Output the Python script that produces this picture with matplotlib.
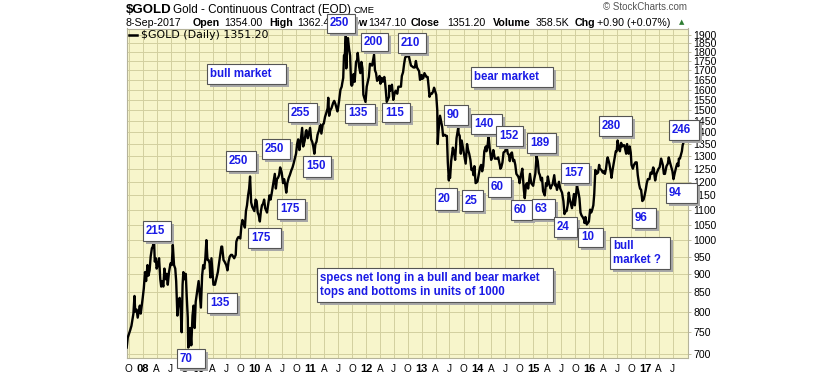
import matplotlib
matplotlib.use('Agg')
import matplotlib.pyplot as plt
import pandas as pd
from matplotlib.patches import Rectangle
from matplotlib.lines import Line2D
from matplotlib.ticker import FixedLocator, NullLocator

plt.rcParams['font.family'] = ['Liberation Sans', 'DejaVu Sans']

# ---- data: $GOLD daily closes (date, close) ----
days_2007 = ['09-17', '09-24', '10-01', '10-10', '10-18', '10-31', '11-07', '11-12', '11-21', '11-28',
             '12-05', '12-12', '12-18', '12-31']
close_2007 = [715, 738, 745, 755, 765, 795, 840, 800, 805, 785,
              800, 815, 795, 835]

days_2008 = ['01-07', '01-15', '01-22', '01-31', '02-06', '02-14', '02-21', '02-29',
             '03-06', '03-14', '03-19', '03-26', '03-31', '04-08', '04-16', '04-24', '04-30',
             '05-05', '05-14', '05-21', '05-30', '06-06', '06-12', '06-20', '06-30',
             '07-08', '07-15', '07-23', '07-31', '08-06', '08-14', '08-21', '08-29',
             '09-05', '09-11', '09-17', '09-22', '09-30', '10-08', '10-14', '10-21', '10-24', '10-31',
             '11-05', '11-13', '11-21', '11-28', '12-05', '12-12', '12-19', '12-31']
close_2008 = [860, 905, 880, 925, 895, 910, 950, 975,
              980, 1000, 935, 945, 915, 925, 945, 885, 865,
              880, 865, 915, 885, 900, 870, 905, 930,
              925, 985, 925, 915, 880, 790, 830, 835,
              800, 750, 870, 905, 885, 900, 840, 785, 715, 720,
              760, 720, 790, 815, 760, 825, 845, 880]

days_2009 = ['01-07', '01-15', '01-23', '01-30', '02-06', '02-13', '02-20', '02-27',
             '03-06', '03-13', '03-18', '03-25', '04-02', '04-07', '04-17', '04-28',
             '05-06', '05-14', '05-22', '05-29', '06-03', '06-12', '06-19', '06-30',
             '07-08', '07-15', '07-23', '07-31', '08-07', '08-14', '08-21', '08-31',
             '09-04', '09-11', '09-18', '09-30', '10-07', '10-14', '10-22', '10-30',
             '11-06', '11-13', '11-20', '11-27', '12-03', '12-10', '12-17', '12-31']
close_2009 = [845, 810, 895, 925, 915, 945, 1000, 940,
              940, 930, 890, 945, 900, 870, 870, 890,
              905, 930, 955, 980, 980, 940, 935, 925,
              910, 935, 950, 955, 955, 950, 945, 955,
              995, 1005, 1010, 1005, 1045, 1065, 1055, 1040,
              1095, 1115, 1150, 1175, 1220, 1125, 1110, 1095]

days_2010 = ['01-08', '01-15', '01-22', '01-29', '02-05', '02-12', '02-19', '02-26',
             '03-05', '03-12', '03-24', '03-31', '04-09', '04-16', '04-23', '04-30',
             '05-07', '05-14', '05-21', '05-28', '06-04', '06-11', '06-18', '06-28',
             '07-07', '07-14', '07-21', '07-28', '08-04', '08-13', '08-20', '08-31',
             '09-07', '09-14', '09-24', '09-30', '10-07', '10-14', '10-22', '10-29',
             '11-05', '11-09', '11-16', '11-26', '12-03', '12-07', '12-16', '12-31']
close_2010 = [1135, 1130, 1090, 1080, 1060, 1095, 1115, 1120,
              1135, 1105, 1090, 1115, 1150, 1135, 1155, 1180,
              1205, 1230, 1175, 1210, 1215, 1225, 1255, 1235,
              1195, 1210, 1190, 1160, 1195, 1215, 1225, 1245,
              1255, 1270, 1295, 1310, 1350, 1370, 1325, 1355,
              1395, 1420, 1340, 1365, 1405, 1410, 1375, 1420]

days_2011 = ['01-07', '01-14', '01-21', '01-28', '02-04', '02-11', '02-18', '02-28',
             '03-07', '03-15', '03-24', '03-31', '04-08', '04-15', '04-25', '04-29',
             '05-05', '05-12', '05-20', '05-31', '06-07', '06-15', '06-28', '06-30',
             '07-08', '07-18', '07-26', '07-29', '08-05', '08-10', '08-16', '08-22', '08-25', '08-31',
             '09-05', '09-12', '09-19', '09-26', '09-30', '10-04', '10-12', '10-19', '10-28',
             '11-04', '11-08', '11-17', '11-25', '12-02', '12-09', '12-15', '12-29']
close_2011 = [1370, 1360, 1340, 1310, 1350, 1360, 1390, 1410,
              1435, 1395, 1435, 1440, 1470, 1485, 1510, 1560,
              1475, 1500, 1510, 1535, 1545, 1530, 1495, 1500,
              1540, 1600, 1615, 1630, 1660, 1780, 1790, 1895, 1710, 1825,
              1880, 1820, 1780, 1625, 1620, 1625, 1680, 1640, 1745,
              1755, 1795, 1720, 1685, 1745, 1710, 1575, 1540]

days_2012 = ['01-06', '01-13', '01-20', '01-27', '02-03', '02-10', '02-23', '02-29',
             '03-07', '03-14', '03-21', '03-30', '04-05', '04-13', '04-20', '04-30',
             '05-04', '05-10', '05-16', '05-31', '06-01', '06-08', '06-19', '06-28',
             '07-06', '07-13', '07-24', '07-31', '08-08', '08-17', '08-23', '08-31',
             '09-07', '09-14', '09-21', '09-28', '10-04', '10-12', '10-22', '10-31',
             '11-07', '11-16', '11-23', '11-30', '12-07', '12-14', '12-20', '12-31']
close_2012 = [1615, 1640, 1665, 1735, 1730, 1725, 1785, 1700,
              1685, 1645, 1650, 1670, 1630, 1660, 1640, 1665,
              1645, 1595, 1540, 1565, 1620, 1595, 1625, 1550,
              1580, 1595, 1580, 1615, 1615, 1615, 1670, 1690,
              1735, 1770, 1775, 1775, 1795, 1760, 1725, 1720,
              1715, 1715, 1750, 1715, 1705, 1695, 1650, 1675]

days_2013 = ['01-04', '01-11', '01-18', '01-31', '02-08', '02-15', '02-20', '02-28',
             '03-08', '03-15', '03-22', '03-28', '04-05', '04-12', '04-15', '04-19', '04-30',
             '05-07', '05-14', '05-20', '05-31', '06-07', '06-14', '06-20', '06-27', '06-28',
             '07-05', '07-12', '07-23', '07-31', '08-07', '08-16', '08-27', '08-30',
             '09-06', '09-13', '09-19', '09-30', '10-04', '10-15', '10-24', '10-31',
             '11-07', '11-15', '11-22', '11-29', '12-05', '12-11', '12-19', '12-31']
close_2013 = [1655, 1660, 1685, 1665, 1665, 1610, 1565, 1580,
              1580, 1590, 1610, 1595, 1575, 1500, 1350, 1400, 1475,
              1450, 1425, 1385, 1390, 1385, 1385, 1275, 1205, 1225,
              1215, 1280, 1335, 1315, 1285, 1375, 1420, 1395,
              1385, 1310, 1365, 1325, 1310, 1270, 1350, 1325,
              1310, 1285, 1245, 1250, 1225, 1260, 1195, 1200]

days_2014 = ['01-08', '01-17', '01-24', '01-31', '02-07', '02-14', '02-24', '02-28',
             '03-07', '03-14', '03-21', '03-31', '04-07', '04-14', '04-24', '04-30',
             '05-08', '05-16', '05-28', '05-30', '06-05', '06-13', '06-20', '06-30',
             '07-10', '07-18', '07-25', '07-31', '08-07', '08-14', '08-22', '08-29',
             '09-05', '09-12', '09-24', '09-30', '10-03', '10-10', '10-21', '10-31',
             '11-06', '11-14', '11-21', '11-28', '12-05', '12-10', '12-18', '12-31']
close_2014 = [1225, 1255, 1265, 1240, 1260, 1320, 1340, 1320,
              1340, 1385, 1335, 1285, 1300, 1325, 1290, 1290,
              1290, 1295, 1260, 1250, 1255, 1275, 1315, 1320,
              1340, 1310, 1305, 1280, 1310, 1315, 1280, 1285,
              1265, 1230, 1220, 1210, 1195, 1220, 1250, 1170,
              1140, 1190, 1195, 1175, 1205, 1230, 1195, 1185]

days_2015 = ['01-07', '01-14', '01-22', '01-30', '02-06', '02-13', '02-20', '02-27',
             '03-06', '03-17', '03-25', '03-31', '04-06', '04-14', '04-24', '04-30',
             '05-07', '05-18', '05-26', '05-29', '06-05', '06-18', '06-26', '06-30',
             '07-08', '07-17', '07-24', '07-31', '08-07', '08-14', '08-21', '08-28',
             '09-04', '09-11', '09-24', '09-30', '10-06', '10-14', '10-22', '10-30',
             '11-06', '11-13', '11-20', '11-30', '12-02', '12-08', '12-17', '12-31']
close_2015 = [1210, 1230, 1300, 1280, 1235, 1225, 1205, 1215,
              1165, 1150, 1195, 1185, 1220, 1195, 1175, 1185,
              1190, 1225, 1185, 1190, 1170, 1200, 1175, 1170,
              1160, 1130, 1085, 1095, 1095, 1115, 1160, 1135,
              1120, 1105, 1155, 1115, 1145, 1185, 1165, 1140,
              1090, 1080, 1075, 1065, 1055, 1075, 1050, 1060]

days_2016 = ['01-08', '01-15', '01-22', '01-29', '02-04', '02-11', '02-19', '02-29',
             '03-07', '03-11', '03-22', '03-31', '04-07', '04-14', '04-21', '04-29',
             '05-02', '05-13', '05-24', '05-27', '06-03', '06-14', '06-24', '06-30',
             '07-06', '07-15', '07-21', '07-29', '08-05', '08-12', '08-19', '08-31',
             '09-06', '09-16', '09-23', '09-30', '10-05', '10-14', '10-21', '10-31',
             '11-08', '11-15', '11-24', '11-30', '12-07', '12-15', '12-23', '12-30']
close_2016 = [1100, 1090, 1100, 1115, 1155, 1245, 1230, 1235,
              1265, 1250, 1245, 1235, 1240, 1230, 1250, 1290,
              1295, 1270, 1230, 1215, 1245, 1285, 1320, 1320,
              1365, 1330, 1320, 1355, 1340, 1345, 1345, 1310,
              1350, 1310, 1340, 1315, 1265, 1250, 1265, 1275,
              1275, 1225, 1190, 1175, 1170, 1130, 1135, 1150]

days_2017 = ['01-06', '01-13', '01-20', '01-31', '02-07', '02-15', '02-24', '02-28',
             '03-03', '03-09', '03-17', '03-31', '04-07', '04-17', '04-24', '04-28',
             '05-05', '05-12', '05-22', '05-31', '06-06', '06-14', '06-23', '06-30',
             '07-07', '07-14', '07-24', '07-31', '08-08', '08-11', '08-18', '08-31',
             '09-05', '09-08']
close_2017 = [1170, 1195, 1210, 1210, 1235, 1230, 1255, 1250,
              1230, 1205, 1230, 1250, 1255, 1290, 1275, 1265,
              1230, 1230, 1260, 1270, 1295, 1275, 1255, 1240,
              1210, 1230, 1255, 1270, 1260, 1290, 1290, 1320,
              1345, 1351.2]

price_ticks = list(range(700, 1901, 50))

# annotation boxes: text, (left, top, right, bottom) in image pixels
notes = [
    ('250', (327, 14, 355, 33)),
    ('200', (361, 33, 388, 51)),
    ('210', (398, 33, 426, 53)),
    ('bull market', (207, 64, 286, 84)),
    ('bear market', (471, 67, 553, 87)),
    ('255', (288, 103, 317, 122)),
    ('135', (345, 104, 375, 123)),
    ('115', (382, 103, 410, 122)),
    ('250', (262, 139, 290, 159)),
    ('250', (226, 151, 256, 171)),
    ('150', (303, 156, 331, 177)),
    ('175', (277, 199, 305, 219)),
    ('175', (248, 228, 281, 248)),
    ('215', (143, 221, 171, 241)),
    ('135', (207, 293, 237, 313)),
    ('70', (177, 349, 205, 368)),
    ('90', (444, 105, 468, 125)),
    ('140', (471, 114, 502, 134)),
    ('152', (496, 126, 523, 146)),
    ('189', (527, 133, 556, 153)),
    ('280', (599, 116, 632, 136)),
    ('246', (669, 120, 699, 140)),
    ('20', (435, 188, 457, 210)),
    ('25', (462, 190, 483, 211)),
    ('60', (488, 177, 511, 197)),
    ('157', (561, 163, 589, 183)),
    ('60', (511, 200, 532, 220)),
    ('63', (532, 199, 555, 219)),
    ('24', (554, 217, 577, 237)),
    ('10', (578, 228, 603, 247)),
    ('96', (632, 208, 656, 228)),
    ('94', (666, 183, 697, 203)),
    ('bull\nmarket ?', (610, 237, 670, 269)),
    ('specs net long in a bull and bear market\ntops and bottoms in units of 1000', (317, 268, 553, 302)),
]

W, H = 840, 376


def fx(x):
    return x / W


def fy(y):
    return 1 - y / H


years = [2007, 2008, 2009, 2010, 2011, 2012, 2013, 2014, 2015, 2016, 2017]
all_days = [days_2007, days_2008, days_2009, days_2010, days_2011, days_2012,
            days_2013, days_2014, days_2015, days_2016, days_2017]
all_close = [close_2007, close_2008, close_2009, close_2010, close_2011, close_2012,
             close_2013, close_2014, close_2015, close_2016, close_2017]
dates, closes = [], []
for yr, d, c in zip(years, all_days, all_close):
    assert len(d) == len(c), yr
    dates += [pd.Timestamp('%d-%s' % (yr, s)) for s in d]
    closes += c

fig = plt.figure(figsize=(W / 100, H / 100), dpi=100)
ax = fig.add_axes([fx(127), fy(358), (688 - 127) / W, (358 - 28.5) / H])
ax.set_facecolor('#f7f5cb')
ax.plot(dates, closes, color='black', lw=1.7, zorder=3)

ax.set_yscale('log')
ax.set_ylim(692, 1937)
ax.set_xlim(pd.Timestamp('2007-09-19'), pd.Timestamp('2017-10-10'))

ax.yaxis.tick_right()
ax.yaxis.set_major_locator(FixedLocator(price_ticks))
ax.yaxis.set_minor_locator(NullLocator())
ax.set_yticks(price_ticks, [str(v) for v in price_ticks])
ax.tick_params(axis='y', length=2, width=0.6, color='#b8b690', pad=2, labelsize=7.6)

qtrs = pd.date_range('2007-10-01', '2017-07-01', freq='QS-JAN')
qlabels = []
for q in qtrs:
    if q.month == 1:
        qlabels.append('%02d' % (q.year % 100))
    else:
        qlabels.append({4: 'A', 7: 'J', 10: 'O'}[q.month])
ax.set_xticks(qtrs, qlabels)
ax.tick_params(axis='x', length=0, pad=4, labelsize=7.2)
for lab, q in zip(ax.get_xticklabels(), qtrs):
    if q.month == 1:
        lab.set_fontweight('bold')
        lab.set_fontsize(8)

ax.grid(True, color='#d2cf9f', lw=0.7, zorder=1)
ax.set_axisbelow(True)
for s in ax.spines.values():
    s.set_color('#b5b39a')
    s.set_linewidth(0.8)

# header
fig.text(fx(126), fy(10), '$GOLD', fontsize=9.5, fontweight='bold', va='center')
fig.text(fx(173), fy(10), 'Gold - Continuous Contract (EOD)', fontsize=8.4, va='center')
fig.text(fx(353), fy(10.5), 'CME', fontsize=6.8, va='center')
header2 = [(126, '8-Sep-2017', 'normal'), (193, 'Open', 'bold'), (224, '1354.00', 'normal'),
           (269, 'High', 'bold'), (297, '1362.40', 'normal'), (346, 'Low', 'bold'),
           (368, '1347.10', 'normal'), (411, 'Close', 'bold'), (447, '1351.20', 'normal'),
           (493, 'Volume', 'bold'), (536, '358.5K', 'normal'), (575, 'Chg', 'bold'),
           (597, '+0.90 (+0.07%)', 'normal')]
for x, t, w in header2:
    fig.text(fx(x), fy(23), t, fontsize=7.7, fontweight=w, va='center')
fig.text(fx(679), fy(22.5), '\u25b2', fontsize=5, color='#2e7d32', va='center',
         family='DejaVu Sans')
fig.text(fx(687), fy(7), '\u00a9 StockCharts.com', fontsize=7, color='#555555',
         ha='right', va='center')

# legend
fig.add_artist(Line2D([fx(129), fx(137)], [fy(35), fy(35)], color='black', lw=1.8,
                      transform=fig.transFigure, zorder=5))
fig.text(fx(141), fy(35), '$GOLD (Daily) 1351.20', fontsize=7.9, family='DejaVu Sans',
         va='center', zorder=5)

# annotation boxes
for i, (txt, (l, t, r, b)) in enumerate(notes):
    z = 10 + 3 * i
    fig.add_artist(Rectangle((fx(l + 3), fy(b + 3)), (r - l) / W, (b - t) / H,
                             transform=fig.transFigure, fc='#a8a8a8', ec='none', zorder=z))
    fig.add_artist(Rectangle((fx(l), fy(b)), (r - l) / W, (b - t) / H,
                             transform=fig.transFigure, fc='white', ec='#555555',
                             lw=0.8, zorder=z + 1))
    fig.text(fx(l + 3), fy((t + b) / 2), txt, color='#1a1ae6', fontsize=8.3,
             fontweight='bold', va='center', ha='left', linespacing=1.2, zorder=z + 2)

fig.savefig('out.png', dpi=100)
